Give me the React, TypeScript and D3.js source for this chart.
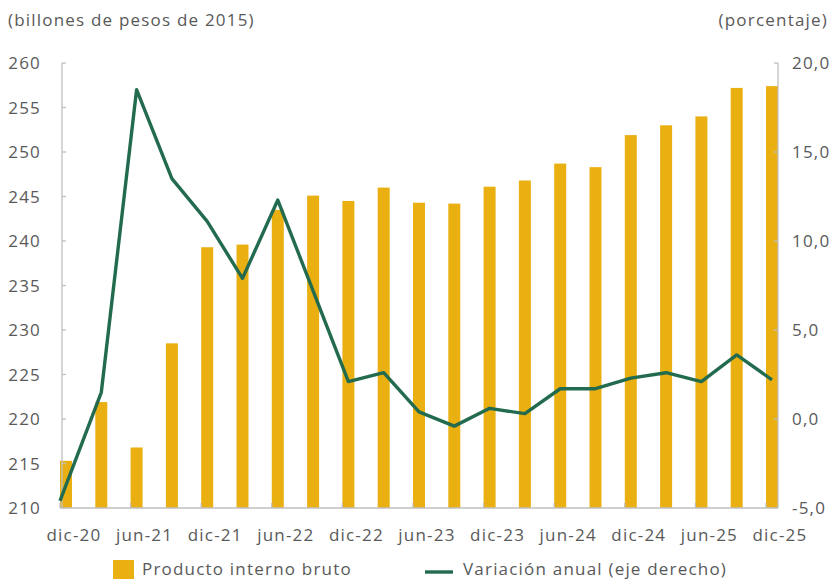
import React from "react";
import * as d3 from "d3";

const categories = [
  "dic-20", "mar-21", "jun-21", "sep-21", "dic-21", "mar-22", "jun-22",
  "sep-22", "dic-22", "mar-23", "jun-23", "sep-23", "dic-23", "mar-24",
  "jun-24", "sep-24", "dic-24", "mar-25", "jun-25", "sep-25", "dic-25",
];
const pib = [
  215.3, 221.9, 216.8, 228.5, 239.3, 239.6, 243.5, 245.1, 244.5, 246.0,
  244.3, 244.2, 246.1, 246.8, 248.7, 248.3, 251.9, 253.0, 254.0, 257.2, 257.4,
];
const variacion = [
  -4.6, 1.5, 18.5, 13.5, 11.1, 7.9, 12.3, 7.2, 2.1, 2.6,
  0.4, -0.4, 0.6, 0.3, 1.7, 1.7, 2.3, 2.6, 2.1, 3.6, 2.2,
];
const leftTicks = [210, 215, 220, 225, 230, 235, 240, 245, 250, 255, 260];
const rightTicks = [-5, 0, 5, 10, 15, 20];

const W = 832;
const H = 579;
const FONT = "'Open Sans', sans-serif";
const FS = 17;
const LS = 1.2;
const TEXT = "#595959";
const AXIS = "#BFBFBF";
const BAR = "#EAB012";
const LINE = "#236B4F";

export default function App() {
  const plotLeft = 62;
  const plotRight = 778;
  const top = 63;
  const bottom = 508;
  const x = d3.scalePoint<string>().domain(categories).range([66, 772]);
  const barW = 12;
  const yL = d3.scaleLinear().domain([210, 260]).range([bottom, top]);
  const yR = d3.scaleLinear().domain([-5, 20]).range([bottom, top]);

  const lineGen = d3
    .line<number>()
    .x((_, i) => (i === 0 ? plotLeft - 2 : (x(categories[i]) as number)))
    .y((d) => yR(d));

  return (
    <svg
      width={W}
      height={H}
      style={{ position: "absolute", left: 0, top: 0, background: "#fff" }}
      fontFamily={FONT}
      letterSpacing={LS}
    >
      <text x={8} y={26} fontSize={FS} fill={TEXT}>
        (billones de pesos de 2015)
      </text>
      <text x={828} y={26} fontSize={FS} fill={TEXT} textAnchor="end">
        (porcentaje)
      </text>

      {/* bars */}
      {pib.map((v, i) => (
        <rect
          key={categories[i]}
          x={(x(categories[i]) as number) - barW / 2}
          y={yL(v)}
          width={barW}
          height={bottom - yL(v)}
          fill={BAR}
        />
      ))}

      {/* axes */}
      <line x1={plotLeft} x2={plotLeft} y1={top} y2={bottom} stroke={AXIS} strokeWidth={1.3} />
      <line x1={plotRight} x2={plotRight} y1={top} y2={bottom} stroke={AXIS} strokeWidth={1.3} />
      <line x1={plotLeft - 2} x2={plotRight} y1={bottom} y2={bottom} stroke={AXIS} strokeWidth={1.3} />

      {leftTicks.map((t) => (
        <g key={"l" + t}>
          <line x1={plotLeft} x2={plotLeft + 4} y1={yL(t)} y2={yL(t)} stroke={AXIS} strokeWidth={1.3} />
          <text x={41} y={yL(t) + 6} fontSize={FS} fill={TEXT} textAnchor="end">
            {t}
          </text>
        </g>
      ))}
      {rightTicks.map((t) => (
        <g key={"r" + t}>
          <line x1={plotRight - 4} x2={plotRight} y1={yR(t)} y2={yR(t)} stroke={AXIS} strokeWidth={1.3} />
          <text x={792} y={yR(t) + 6} fontSize={FS} fill={TEXT}>
            {t.toFixed(1).replace(".", ",")}
          </text>
        </g>
      ))}

      {categories.map((c, i) =>
        i % 2 === 0 ? (
          <g key={"x" + c}>
            <line
              x1={(x(c) as number) - barW / 2}
              x2={(x(c) as number) - barW / 2}
              y1={bottom}
              y2={bottom - 5}
              stroke={AXIS}
              strokeWidth={1.3}
            />
            <text x={(x(c) as number) + 8} y={541} fontSize={FS} fill={TEXT} textAnchor="middle">
              {c}
            </text>
          </g>
        ) : null
      )}

      {/* line */}
      <path d={lineGen(variacion) || ""} fill="none" stroke={LINE} strokeWidth={3.4} strokeLinejoin="round" />

      {/* legend */}
      <rect x={113} y={560} width={21} height={21} fill={BAR} />
      <text x={142} y={575} fontSize={FS} fill={TEXT}>
        Producto interno bruto
      </text>
      <line x1={425} x2={453} y1={572} y2={572} stroke={LINE} strokeWidth={3.4} />
      <text x={463} y={575} fontSize={FS} fill={TEXT}>
        Variación anual (eje derecho)
      </text>
    </svg>
  );
}
